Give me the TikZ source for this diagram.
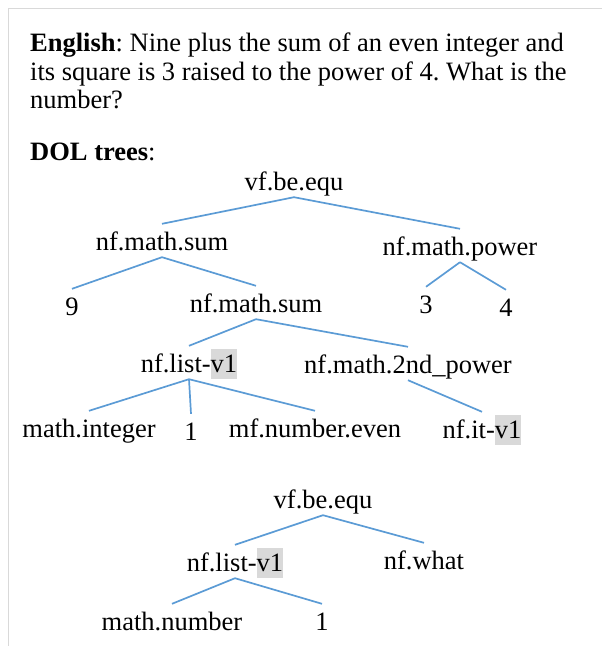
\documentclass[tikz,border=0pt]{standalone}
\usepackage{fontspec}
\setmainfont{Liberation Serif}
\usetikzlibrary{positioning}
\definecolor{edgeblue}{HTML}{5B9BD5}
\definecolor{hlgray}{HTML}{D9D9D9}
\definecolor{framegray}{HTML}{D9D9D9}
\newcommand{\hlv}[1]{{\setlength{\fboxsep}{0pt}\colorbox{hlgray}{\rule[-7pt]{0pt}{30pt}#1}}}
\frenchspacing
\tikzset{
  hdr/.style={inner sep=0pt,anchor=base west,font=\fontsize{26.5}{29}\selectfont},
  lbl/.style={inner sep=0pt,text height=26pt,text depth=7pt,anchor=base,
    font=\fontsize{26.5}{29}\selectfont},
  edge/.style={draw=edgeblue,line width=1.7pt},
}
\begin{document}
\begin{tikzpicture}[x=1pt,y=-1pt]
    \useasboundingbox (0,0) rectangle (602,646);
    \draw[framegray,line width=1.6pt] (602,8.5) -- (8.5,8.5) -- (8.5,646);

    \node[hdr] (en1) at (30,51) {\textbf{English}: Nine plus the sum of an even integer and};
    \node[hdr] (en2) at (30,80) {its square is 3 raised to the power of 4. What is the};
    \node[hdr] (en3) at (30,108) {number?};
    \node[hdr] (dol) at (30,160) {\textbf{DOL trees}:};

    \node[lbl] (r1) at (294,190) {vf.be.equ};
    \node[lbl] (s1) at (162,250) {nf.math.sum};
    \node[lbl] (pw) at (460,255) {nf.math.power};
    \node[lbl] (n9) at (72,315) {9};
    \node[lbl] (s2) at (256,312) {nf.math.sum};
    \node[lbl] (n3) at (426,313) {3};
    \node[lbl] (n4) at (506,316) {4};
    \node[lbl] (l1) at (189,372) {nf.list-\hlv{v1}};
    \node[lbl] (sq) at (408,373) {nf.math.2nd\_power};
    \node[lbl] (ig) at (89,437) {math.integer};
    \node[lbl] (o1) at (191,440) {1};
    \node[lbl] (ev) at (315,437) {mf.number.even};
    \node[lbl] (it) at (482,438) {nf.it-\hlv{v1}};

    \node[lbl] (r2) at (323,508) {vf.be.equ};
    \node[lbl] (l2) at (235,571) {nf.list-\hlv{v1}};
    \node[lbl] (wh) at (424,569) {nf.what};
    \node[lbl] (nm) at (172,630) {math.number};
    \node[lbl] (o2) at (322,630) {1};

    \draw[edge](r1.south)--(s1.north); \draw[edge](r1.south)--(pw.north);
    \draw[edge](s1.south)--(n9.north); \draw[edge](s1.south)--(s2.north);
    \draw[edge](pw.south)--(n3.north); \draw[edge](pw.south)--(n4.north);
    \draw[edge](s2.south)--(l1.north); \draw[edge](s2.south)--(sq.north);
    \draw[edge](l1.south)--(ig.north); \draw[edge](l1.south)--(o1.north);
    \draw[edge](l1.south)--(ev.north); \draw[edge](sq.south)--(it.north);

    \draw[edge](r2.south)--(l2.north); \draw[edge](r2.south)--(wh.north);
    \draw[edge](l2.south)--(nm.north); \draw[edge](l2.south)--(o2.north);
  \end{tikzpicture}
\end{document}
